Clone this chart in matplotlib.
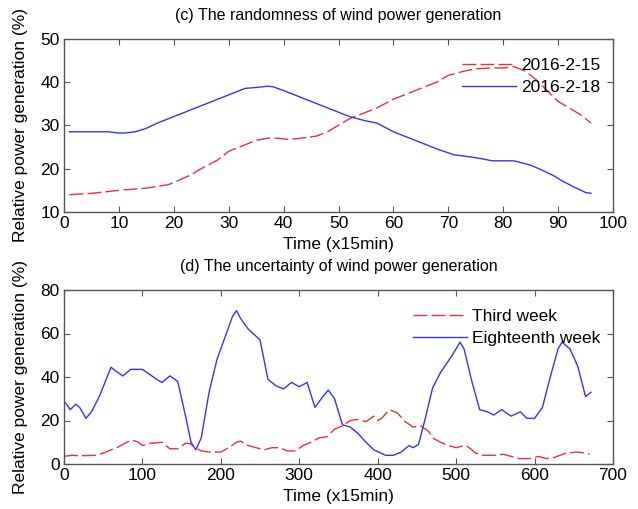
import matplotlib
matplotlib.use("Agg")
import matplotlib.pyplot as plt

plt.rcParams['font.family'] = ['Liberation Sans', 'DejaVu Sans']

# ---- (c) data ----
c_red_x = [1, 5, 10, 15, 19, 20, 23, 25, 28, 30, 33, 35, 37, 39, 41, 43, 46, 48, 50, 52, 55, 57,
           60, 63, 65, 68, 70, 73, 75, 78, 80, 82, 84, 86, 88, 90, 92, 94, 96]
c_red_y = [14, 14.3, 15, 15.5, 16.3, 16.8, 18.5, 20, 22, 24, 25.5, 26.5, 27, 27, 26.7, 27, 27.5, 28.5,
           30, 31.5, 33, 34, 36, 37.5, 38.5, 40, 41.5, 42.5, 43, 43.2, 43.2, 43.5, 42.5, 40.5, 38,
           35.5, 34, 32.5, 30.5]
c_blue_x = [1, 8, 10, 11, 13, 15, 17, 20, 23, 25, 28, 31, 33, 35, 37, 38, 40, 42, 45, 47, 50, 52,
            55, 57, 60, 63, 65, 68, 71, 74, 76, 78, 82, 85, 87, 89, 91, 93, 95, 96]
c_blue_y = [28.5, 28.5, 28.2, 28.2, 28.5, 29.3, 30.5, 32, 33.5, 34.5, 36, 37.5, 38.5, 38.7, 39, 38.9,
            38, 37, 35.5, 34.5, 33, 32, 31, 30.5, 28.5, 27, 26, 24.5, 23.2, 22.7, 22.3, 21.8, 21.8,
            20.8, 19.7, 18.5, 17, 15.7, 14.5, 14.3]

# ---- (d) data ----
d_red_x = [0, 10, 20, 40, 50, 60, 70, 80, 87, 95, 100, 110, 125, 130, 135, 145, 155, 160, 170, 175,
           185, 200, 210, 220, 225, 235, 245, 255, 265, 275, 285, 295, 305, 315, 325, 335, 345, 355,
           365, 375, 385, 395, 400, 405, 415, 425, 435, 445, 455, 465, 470, 480, 490, 500, 510, 515,
           525, 535, 550, 560, 570, 580, 595, 605, 615, 625, 640, 655, 665, 670]
d_red_y = [3.5, 4, 3.8, 4, 5, 6.5, 8, 10, 11, 10, 8.5, 9.5, 10, 8.5, 7, 7, 9.5, 9.5, 7, 6, 5.5, 5.5,
           7.5, 10, 10.5, 8.5, 7.5, 6.5, 7.5, 7.5, 6, 6, 8.5, 10, 12, 12.5, 16, 17.5, 20, 20.5, 19.5,
           22, 20, 21, 25, 23.5, 19.5, 17, 17.5, 15, 12, 10, 8.5, 7.5, 8.5, 8, 5, 4, 4, 4.5, 3.5, 2.5,
           2.5, 3.5, 2.5, 3, 5, 5.5, 5, 4.5]
d_blue_x = [0, 8, 15, 20, 28, 35, 45, 55, 60, 65, 75, 85, 100, 110, 120, 125, 135, 145, 155, 162, 168,
            175, 185, 195, 205, 215, 220, 225, 235, 250, 260, 270, 280, 290, 300, 310, 320, 330, 337,
            345, 355, 365, 375, 385, 395, 410, 420, 430, 440, 445, 452, 460, 470, 480, 495, 505, 510,
            520, 530, 540, 548, 558, 570, 582, 590, 600, 610, 620, 630, 635, 645, 655, 665, 672]
d_blue_y = [29, 25, 27.5, 26, 21, 24, 31, 40, 44.5, 43, 40.5, 43.5, 43.5, 41, 38.5, 37.5, 40.5, 38, 22,
            10, 6.5, 12, 33, 48, 58, 68, 70.5, 67, 62, 57, 39, 36, 34.5, 37.5, 35.5, 37.5, 26, 31, 34,
            30, 18, 17, 14, 10, 6.5, 4, 4, 5.5, 8.5, 7.5, 9, 20, 35, 42, 50, 56, 53, 38, 25, 24, 22.5,
            25, 22, 24, 21, 21, 26, 40, 53, 56, 53, 45, 31, 33]

red = '#e8303a'
blue = '#3333ff'
dash = (0, (10, 3))

fig = plt.figure(figsize=(6.38, 5.09), dpi=100)
ax1 = fig.add_axes([64/638, 1-212/509, (613-64)/638, (212-38.5)/509])
ax2 = fig.add_axes([64/638, 1-464/509, (613-64)/638, (464-290)/509])

for ax in (ax1, ax2):
    for s in ax.spines.values():
        s.set_color('#555555')
        s.set_linewidth(1.0)
    ax.tick_params(direction='in', top=True, right=True, length=4, width=0.8,
                   color='#555555', labelsize=12.5, pad=3)

leg_kw = dict(loc='upper right', frameon=False, fontsize=12.5, handlelength=3.1,
              handletextpad=0.3, borderaxespad=0.0, labelspacing=0.4)

ax1.plot(c_red_x, c_red_y, color=red, lw=1.0, linestyle=dash, label='2016-2-15')
ax1.plot(c_blue_x, c_blue_y, color=blue, lw=1.0, label='2016-2-18')
ax1.set_xlim(0, 100)
ax1.set_ylim(10, 50)
ax1.set_xticks(range(0, 101, 10))
ax1.set_yticks(range(10, 51, 10))
ax1.set_title('(c) The randomness of wind power generation', fontsize=11.5, pad=13)
ax1.set_xlabel('Time (x15min)', fontsize=12.5, labelpad=4)
ax1.set_ylabel('Relative power generation (%)', fontsize=12.5, labelpad=9)
ax1.legend(bbox_to_anchor=(0.99, 0.93), **leg_kw)

ax2.plot(d_red_x, d_red_y, color=red, lw=1.0, linestyle=dash, label='Third week')
ax2.plot(d_blue_x, d_blue_y, color=blue, lw=1.0, label='Eighteenth week')
ax2.set_xlim(0, 700)
ax2.set_ylim(0, 80)
ax2.set_xticks(range(0, 701, 100))
ax2.set_yticks(range(0, 81, 20))
ax2.set_title('(d) The uncertainty of wind power generation', fontsize=11.5, pad=14)
ax2.set_xlabel('Time (x15min)', fontsize=12.5, labelpad=4)
ax2.set_ylabel('Relative power generation (%)', fontsize=12.5, labelpad=9)
ax2.legend(bbox_to_anchor=(0.99, 0.93), **leg_kw)

fig.savefig('out.png', dpi=100)
